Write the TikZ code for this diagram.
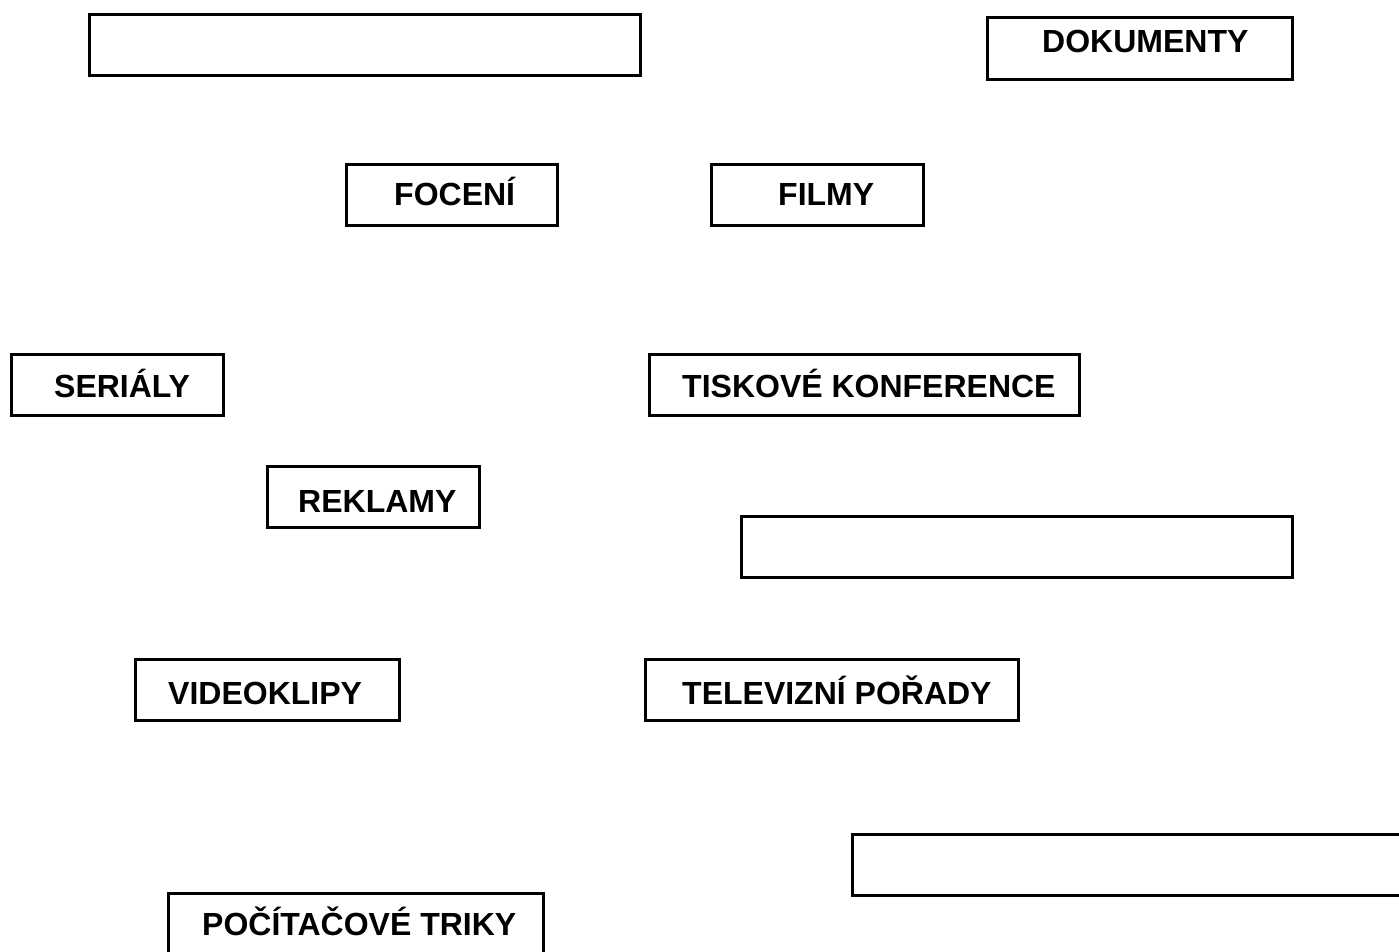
\documentclass[tikz,border=0pt]{standalone}
\usepackage{fontspec}
\setmainfont{Liberation Sans}
\usepackage{tikz}

\tikzset{
  frame/.style={draw=black, line width=2.6pt, anchor=north west, inner sep=0pt},
  word/.style={anchor=base west, inner sep=0pt, font=\bfseries\fontsize{32}{38}\selectfont}
}

\begin{document}
\begin{tikzpicture}[x=1pt,y=-1pt]
\useasboundingbox (0,0) rectangle (1399,952);

    % the frames
    \node[frame, minimum width=551, minimum height=61] (blankA) at (88,13) {};
    \node[frame, minimum width=305, minimum height=62] (dok) at (986,16) {};
    \node[frame, minimum width=211, minimum height=61] (foc) at (345,163) {};
    \node[frame, minimum width=212, minimum height=61] (fil) at (710,163) {};
    \node[frame, minimum width=212, minimum height=61] (ser) at (10,353) {};
    \node[frame, minimum width=430, minimum height=61] (tis) at (648,353) {};
    \node[frame, minimum width=212, minimum height=61] (rek) at (266,465) {};
    \node[frame, minimum width=551, minimum height=61] (blankB) at (740,515) {};
    \node[frame, minimum width=264, minimum height=61] (vid) at (134,658) {};
    \node[frame, minimum width=373, minimum height=61] (tel) at (644,658) {};
    \node[frame, minimum width=600, minimum height=61] (blankC) at (851,833) {};
    \node[frame, minimum width=375, minimum height=80] (poc) at (167,892) {};

    % the words
    \node[word] (tdok) at (1042,53) {DOKUMENTY};
    \node[word] (tfoc) at (394,205) {FOCENÍ};
    \node[word] (tfil) at (778,205) {FILMY};
    \node[word] (tser) at (54,397) {SERIÁLY};
    \node[word] (ttis) at (682,397) {TISKOVÉ KONFERENCE};
    \node[word] (trek) at (298,512) {REKLAMY};
    \node[word] (tvid) at (168,704) {VIDEOKLIPY};
    \node[word] (ttel) at (682,704) {TELEVIZNÍ POŘADY};
    \node[word] (tpoc) at (202,935) {POČÍTAČOVÉ TRIKY};

\end{tikzpicture}
\end{document}
